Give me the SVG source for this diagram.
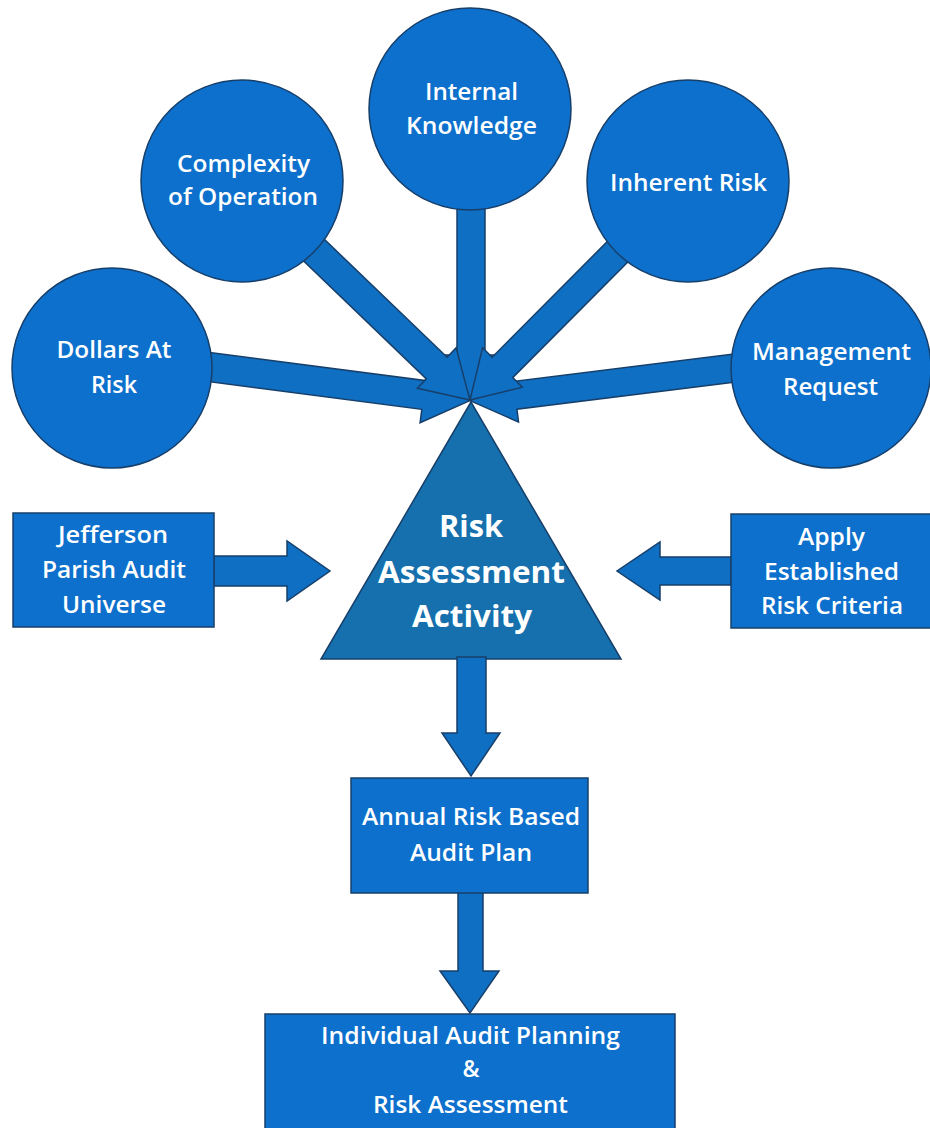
<svg xmlns="http://www.w3.org/2000/svg" width="930" height="1128" viewBox="0 0 930 1128">
<style>
.shape{fill:#0c70cc;stroke:#173f6a;stroke-width:1.5}
.tri{fill:#1570ad;stroke:#173f6a;stroke-width:1.5}
.arr{fill:#0f6fc2;stroke:#173f6a;stroke-width:1.5;stroke-linejoin:miter}
.t{fill:#ffffff;font-family:"Open Sans","Liberation Sans",sans-serif;font-weight:600;font-size:23px;text-anchor:middle}
.tb{fill:#ffffff;font-family:"Open Sans","Liberation Sans",sans-serif;font-weight:700;font-size:30px;text-anchor:middle}
</style>
<rect width="930" height="1128" fill="#ffffff"/>
<g id="risk-assessment-activity">
<polygon class="tri" points="471,402 321,659 621,659"/>
<text class="tb" x="471" y="537" textLength="64" lengthAdjust="spacingAndGlyphs">Risk</text>
<text class="tb" x="471.5" y="583" textLength="187" lengthAdjust="spacingAndGlyphs">Assessment</text>
<text class="tb" x="472" y="627" textLength="120" lengthAdjust="spacingAndGlyphs">Activity</text>
</g>
<g id="connectors">
<polygon class="arr" transform="translate(471,109) rotate(90)" points="0,-14 246,-14 246,-27 291,0 246,27 246,14 0,14"/>
<polygon class="arr" transform="translate(150,359.3) rotate(7.42)" points="0,-14.5 276,-14.5 276,-28 322,0 276,28 276,14.5 0,14.5"/>
<polygon class="arr" transform="translate(800,359.8) rotate(172.9)" points="0,-14 287,-14 287,-27 332,0 287,27 287,14 0,14"/>
<polygon class="arr" transform="translate(688,181) rotate(134.87)" points="0,-14.5 263,-14.5 263,-28 309,0 263,28 263,14.5 0,14.5"/>
<polygon class="arr" transform="translate(242,181) rotate(43.85)" points="0,-15 270,-15 270,-28 316,0 270,28 270,15 0,15"/>
<polygon class="arr" points="214,556 287,556 287,541 330,571 287,601 287,586 214,586"/>
<polygon class="arr" points="731,557 660,557 660,542 617,571 660,600 660,585 731,585"/>
<polygon class="arr" points="457,657 486,657 486,733 500,733 471,776 442,733 457,733"/>
<polygon class="arr" points="458,892 483,892 483,971 499,971 470,1013 440,971 458,971"/>
</g>
<g id="dollars-at-risk">
<circle class="shape" cx="112" cy="368" r="100"/>
<text class="t" x="114" y="358" textLength="115" lengthAdjust="spacingAndGlyphs">Dollars At</text>
<text class="t" x="114" y="393" textLength="46" lengthAdjust="spacingAndGlyphs">Risk</text>
</g>
<g id="complexity-of-operation">
<circle class="shape" cx="242" cy="181" r="101"/>
<text class="t" x="243.5" y="172" textLength="133" lengthAdjust="spacingAndGlyphs">Complexity</text>
<text class="t" x="243" y="205" textLength="150" lengthAdjust="spacingAndGlyphs">of Operation</text>
</g>
<g id="internal-knowledge">
<circle class="shape" cx="470" cy="109" r="101"/>
<text class="t" x="471.5" y="100" textLength="93" lengthAdjust="spacingAndGlyphs">Internal</text>
<text class="t" x="471.5" y="134" textLength="131" lengthAdjust="spacingAndGlyphs">Knowledge</text>
</g>
<g id="inherent-risk">
<circle class="shape" cx="688" cy="181" r="101"/>
<text class="t" x="688.5" y="191" textLength="157" lengthAdjust="spacingAndGlyphs">Inherent Risk</text>
</g>
<g id="management-request">
<circle class="shape" cx="831" cy="368" r="100"/>
<text class="t" x="831.5" y="360" textLength="159" lengthAdjust="spacingAndGlyphs">Management</text>
<text class="t" x="830.5" y="395" textLength="95" lengthAdjust="spacingAndGlyphs">Request</text>
</g>
<g id="jefferson-parish-audit-universe">
<rect class="shape" x="13" y="513" width="201" height="114"/>
<text class="t" x="113" y="543" textLength="110" lengthAdjust="spacingAndGlyphs">Jefferson</text>
<text class="t" x="114" y="578" textLength="144" lengthAdjust="spacingAndGlyphs">Parish Audit</text>
<text class="t" x="114" y="613" textLength="104" lengthAdjust="spacingAndGlyphs">Universe</text>
</g>
<g id="apply-established-risk-criteria">
<rect class="shape" x="731" y="514" width="205" height="114"/>
<text class="t" x="831.5" y="545" textLength="67" lengthAdjust="spacingAndGlyphs">Apply</text>
<text class="t" x="831.5" y="580" textLength="135" lengthAdjust="spacingAndGlyphs">Established</text>
<text class="t" x="832" y="614" textLength="142" lengthAdjust="spacingAndGlyphs">Risk Criteria</text>
</g>
<g id="annual-risk-based-audit-plan">
<rect class="shape" x="351" y="778" width="237" height="115"/>
<text class="t" x="471" y="825" textLength="218" lengthAdjust="spacingAndGlyphs">Annual Risk Based</text>
<text class="t" x="471" y="861" textLength="122" lengthAdjust="spacingAndGlyphs">Audit Plan</text>
</g>
<g id="individual-audit-planning">
<rect class="shape" x="265" y="1014" width="410" height="120"/>
<text class="t" x="470.5" y="1044" textLength="299" lengthAdjust="spacingAndGlyphs">Individual Audit Planning</text>
<text class="t" x="471" y="1077">&amp;</text>
<text class="t" x="470.5" y="1113" textLength="195" lengthAdjust="spacingAndGlyphs">Risk Assessment</text>
</g>
</svg>
